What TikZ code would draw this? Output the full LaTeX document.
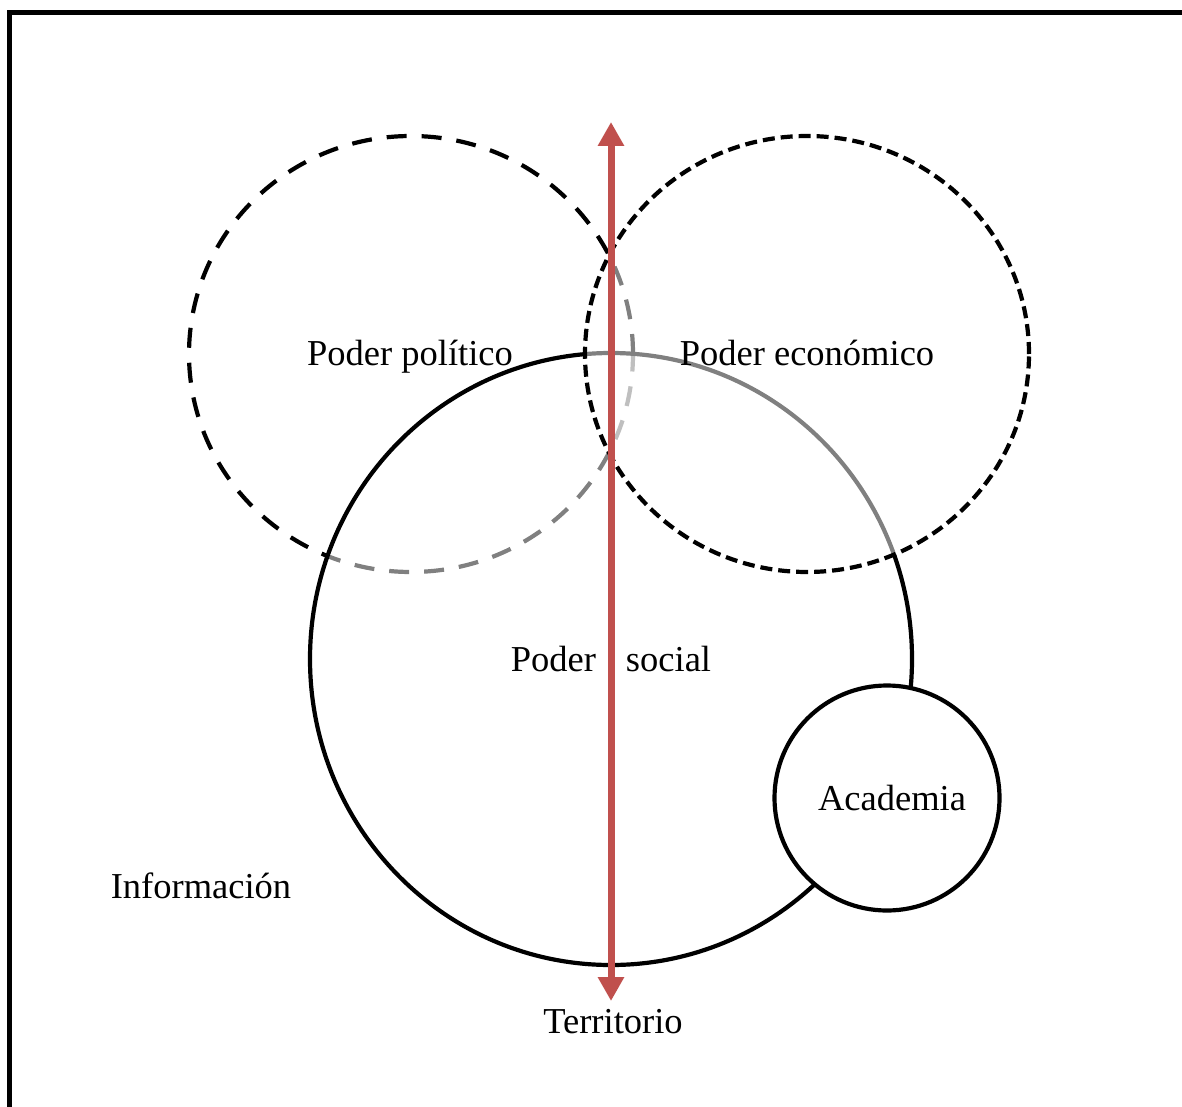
\documentclass[tikz,border=0pt]{standalone}
\usepackage{fontspec}
\setmainfont{Liberation Serif}
\usetikzlibrary{shapes.geometric,arrows.meta}
\definecolor{arrowred}{HTML}{C0504D}
\begin{document}
\begin{tikzpicture}[x=1pt,y=-1pt,
  every node/.style={font=\fontsize{36.5}{44}\selectfont, inner sep=0pt},
  ring/.style={ellipse, draw=black, line width=4.2pt, minimum width=#1},
  polring/.style={ring=444pt, minimum height=436pt, dash pattern=on 20pt off 15pt},
  ecoring/.style={ring=444pt, minimum height=436pt, dash pattern=on 12pt off 6pt, fill=white, fill opacity=0.5, draw opacity=1},
  socring/.style={ring=602pt, minimum height=612pt, fill=white, fill opacity=0.5, draw opacity=1},
  acaring/.style={circle, draw=black, line width=4.2pt, minimum size=225pt, fill=white},
  axis/.style={draw=arrowred, line width=7pt, {Triangle[width=25pt,length=24pt]}-{Triangle[width=25pt,length=24pt]}},
  label/.style={text=black, anchor=base}
]
\useasboundingbox (0,0) rectangle (1182,1107);
\clip (0,0) rectangle (1182,1107);
\draw[line width=5pt] (1200,12.5) -- (9,12.5) -- (9,1130);
\node[polring] (pol) at (411,354) {};
\node[socring] (soc) at (611,659) {};
\node[ecoring] (eco) at (807,354) {};
\node[acaring] (aca) at (887,798) {};
\coordinate (atop) at (611,122);
\coordinate (abot) at (611,1001);
\draw[axis] (abot) -- (atop);
\node[label] (lpol) at (410,365) {Poder político};
\node[label] (leco) at (807,365) {Poder económico};
\node[label] (lsoc) at (611,671) {Poder\hspace{30pt}social};
\node[label] (laca) at (892,810) {Academia};
\node[label] (linf) at (201,898) {Información};
\node[label] (lter) at (613,1033) {Territorio};
\end{tikzpicture}
\end{document}
